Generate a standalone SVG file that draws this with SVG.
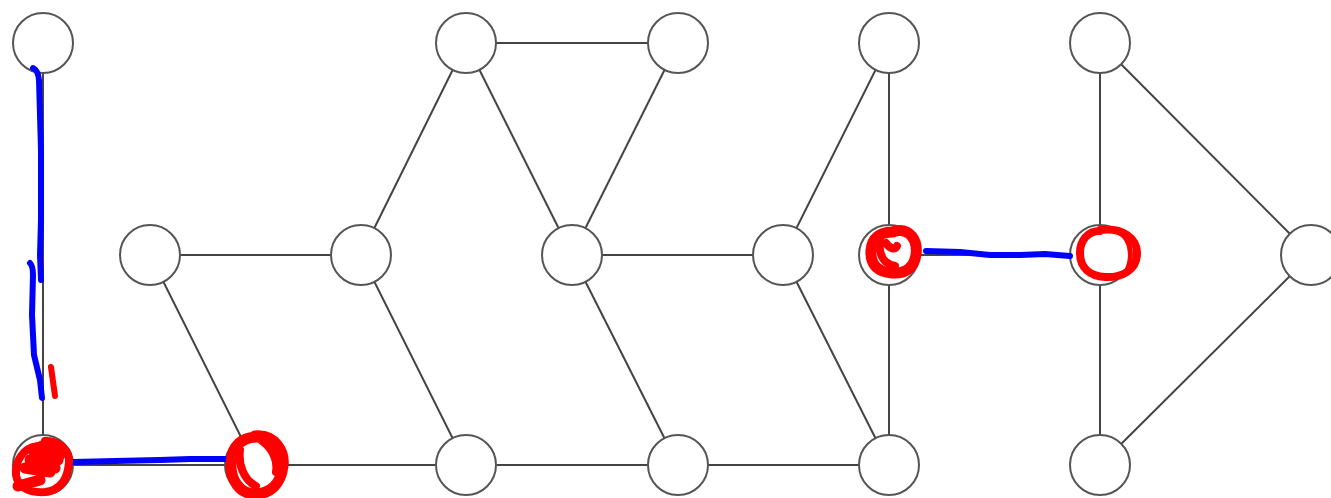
<svg xmlns="http://www.w3.org/2000/svg" width="1331" height="498" viewBox="0 0 1331 498">
<style>
.e{stroke:#444;stroke-width:2;fill:none}
.n{fill:#fff;stroke:#555;stroke-width:2}
.b{stroke:#0000ff;stroke-width:6;fill:none;stroke-linecap:round;stroke-linejoin:round}
.r{stroke:#ff0000;stroke-width:8;fill:none;stroke-linecap:round;stroke-linejoin:round}
.rt{stroke:#ff0000;stroke-width:11;fill:none;stroke-linecap:round;stroke-linejoin:round}
</style>
<g id="connectors">
<line class="e" x1="43" y1="43" x2="43" y2="465"/>
<line class="e" x1="43" y1="465" x2="255" y2="465"/>
<line class="e" x1="255" y1="465" x2="466" y2="465"/>
<line class="e" x1="466" y1="465" x2="678" y2="465"/>
<line class="e" x1="678" y1="465" x2="889" y2="465"/>
<line class="e" x1="150" y1="255" x2="361" y2="255"/>
<line class="e" x1="150" y1="255" x2="255" y2="465"/>
<line class="e" x1="361" y1="255" x2="466" y2="43"/>
<line class="e" x1="361" y1="255" x2="466" y2="465"/>
<line class="e" x1="466" y1="43" x2="678" y2="43"/>
<line class="e" x1="466" y1="43" x2="572" y2="255"/>
<line class="e" x1="678" y1="43" x2="572" y2="255"/>
<line class="e" x1="572" y1="255" x2="783" y2="255"/>
<line class="e" x1="572" y1="255" x2="678" y2="465"/>
<line class="e" x1="783" y1="255" x2="889" y2="43"/>
<line class="e" x1="783" y1="255" x2="889" y2="465"/>
<line class="e" x1="889" y1="43" x2="889" y2="255"/>
<line class="e" x1="889" y1="255" x2="889" y2="465"/>
<line class="e" x1="889" y1="255" x2="1100" y2="255"/>
<line class="e" x1="1100" y1="43" x2="1100" y2="255"/>
<line class="e" x1="1100" y1="255" x2="1100" y2="465"/>
<line class="e" x1="1100" y1="43" x2="1311" y2="255"/>
<line class="e" x1="1311" y1="255" x2="1100" y2="465"/>
</g>
<g id="n1"><circle class="n" cx="43" cy="43" r="30"/></g>
<g id="n2"><circle class="n" cx="466" cy="43" r="30"/></g>
<g id="n3"><circle class="n" cx="678" cy="43" r="30"/></g>
<g id="n4"><circle class="n" cx="889" cy="43" r="30"/></g>
<g id="n5"><circle class="n" cx="1100" cy="43" r="30"/></g>
<g id="n6"><circle class="n" cx="150" cy="255" r="30"/></g>
<g id="n7"><circle class="n" cx="361" cy="255" r="30"/></g>
<g id="n8"><circle class="n" cx="572" cy="255" r="30"/></g>
<g id="n9"><circle class="n" cx="783" cy="255" r="30"/></g>
<g id="n10"><circle class="n" cx="889" cy="255" r="30"/></g>
<g id="n11"><circle class="n" cx="1100" cy="255" r="30"/></g>
<g id="n12"><circle class="n" cx="1311" cy="255" r="30"/></g>
<g id="n13"><circle class="n" cx="43" cy="465" r="30"/></g>
<g id="n14"><circle class="n" cx="255" cy="465" r="30"/></g>
<g id="n15"><circle class="n" cx="466" cy="465" r="30"/></g>
<g id="n16"><circle class="n" cx="678" cy="465" r="30"/></g>
<g id="n17"><circle class="n" cx="889" cy="465" r="30"/></g>
<g id="n18"><circle class="n" cx="1100" cy="465" r="30"/></g>
<g id="annotations">
<path class="b" d="M33,68 Q38,70 39,80 L41,150 L41,220 L40,255 L41,280"/>
<path class="b" d="M30,263 Q33,266 33,275 L32,315 L34,355 L40,380 L42,398"/>
<path class="r" d="M51,367 L55,396" style="stroke-width:6"/>
<path class="b" d="M73,462 L115,461 L160,460 L190,459 L226,459"/>
<path class="b" d="M926,251 L960,252 L990,255 L1020,255 L1045,254 L1070,256"/>
<path class="r" d="M45,441 C60,440 70,452 69,462 C68,478 62,490 45,492 C30,493 18,488 16,475 C15,462 22,448 38,446"/>
<path class="rt" d="M42,446 L60,455 M34,452 L58,460 M30,460 L55,468 M25,468 L50,472 M18,486 L40,480"/>
<path class="rt" d="M255,436 C275,434 285,452 283,466 C281,484 270,494 255,494 C240,494 230,480 231,463 C232,445 242,437 258,437"/>
<path class="r" d="M262,441 C272,448 278,460 276,472 M240,450 C238,465 244,480 256,486"/>
<path class="rt" d="M895,231 C910,228 918,240 916,255 C914,268 905,274 892,273 C878,272 870,265 871,250 C872,238 880,232 893,232"/>
<path class="r" d="M880,240 C878,255 884,264 895,266 M886,243 C890,249 895,250 897,246"/>
<path class="r" d="M1100,230 C1122,227 1138,238 1137,255 C1136,270 1122,278 1105,277 C1090,276 1080,268 1080,253 C1080,240 1088,231 1100,231"/>
<path class="r" d="M1120,233 C1132,240 1133,260 1126,272" style="stroke-width:5"/>
</g>
</svg>
